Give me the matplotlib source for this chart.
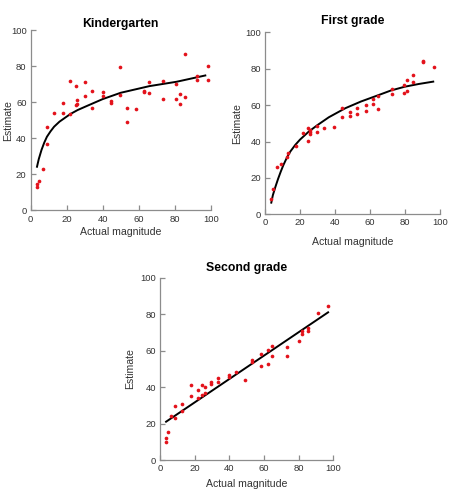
import matplotlib.pyplot as plt

plt.rcParams['font.family'] = ['Liberation Sans', 'DejaVu Sans']

# ---- data ----
k_x = [3.7, 3.7, 4.8, 6.7, 8.9, 8.9, 13.0, 17.8, 17.8, 21.7, 21.7, 25, 25, 25.7, 25.7,
       30, 30, 33.9, 33.9, 40, 40, 44.6, 44.6, 49.6, 49.6, 53.3, 53.3, 58.5, 62.8, 62.8,
       65.7, 65.7, 73.7, 73.7, 80.9, 80.9, 82.8, 82.8, 85.9, 85.9, 92.2, 92.2, 98.7, 98.7]
k_y = [12.8, 14.4, 16.3, 23.1, 46.0, 36.8, 53.8, 59.3, 53.8, 71.9, 53.4, 69.1, 58.2, 61.4, 59.0,
       71.0, 63.6, 66.2, 56.6, 65.4, 63.6, 60.6, 59.3, 79.5, 63.8, 56.9, 49.0, 56.4, 66.4, 65.4,
       71.0, 65.1, 71.9, 61.9, 70.2, 61.7, 64.7, 59.0, 86.9, 62.8, 74.5, 72.3, 80.0, 72.3]
k_fit_x = [3.5, 4.5, 6, 7.5, 9, 11, 13, 16, 22, 26, 31, 40, 50, 66, 81, 97]
k_fit_y = [24.2, 28.5, 33.5, 37.5, 40.8, 43.8, 46.4, 49.2, 53.4, 55.6, 57.8, 61.7, 65.2, 68.9, 71.3, 74.8]

f_x = [3.6, 4.8, 6.7, 9.0, 12.4, 13.0, 17.7, 21.6, 24.8, 24.8, 25.6, 26, 26, 29.6, 30, 34,
       39.7, 43.9, 43.9, 48.9, 48.9, 52.5, 52.5, 57.6, 57.6, 61.6, 61.6, 64.7, 64.7, 72.7, 72.7,
       79.6, 79.6, 81.3, 81.3, 84.5, 84.5, 90.5, 90.5, 96.6]
f_y = [8.6, 13.7, 25.8, 27.5, 31.3, 33.5, 37.5, 44.9, 40.5, 47.3, 46.3, 45.1, 44.1, 45.4, 48.5, 47.6,
       48.2, 58.6, 53.5, 56.2, 54.2, 58.2, 55.1, 60.1, 56.8, 63.4, 60.8, 65.2, 58.1, 68.7, 66.3,
       71.2, 66.5, 73.8, 67.9, 76.7, 72.9, 84.2, 83.5, 81.0]
f_fit_x = [3.6, 4.5, 6, 7.5, 9, 10.5, 12.6, 14.5, 17.3, 20, 25, 30, 36.5, 46, 55, 65, 72, 80, 88, 96.3]
f_fit_y = [6.4, 10.5, 15.2, 19.5, 23.4, 27.0, 31.3, 34.5, 38.1, 41.0, 45.4, 49.0, 53.3, 58.3, 62.0,
           65.5, 68.0, 70.1, 71.6, 72.9]

s_x = [3.6, 3.6, 4.6, 6.3, 8.6, 8.6, 12.5, 12.5, 17.6, 17.6, 21.8, 21.8, 24.5, 24.5, 25.7, 25.7,
       29.7, 29.7, 33.7, 33.7, 40, 40, 43.7, 48.9, 52.9, 52.9, 58.2, 58.2, 62.3, 62.3, 64.8, 64.8,
       73.2, 73.2, 80.1, 82, 82, 85.2, 85.2, 91.4, 96.7]
s_y = [9.6, 12.0, 15.5, 24.2, 29.6, 23.3, 30.9, 26.9, 40.9, 35.1, 38.2, 34.2, 40.9, 35.8, 40.2, 36.7,
       42.7, 41.8, 44.9, 42.7, 46.4, 45.3, 48.2, 43.8, 55.1, 54.0, 58.0, 51.8, 60.4, 52.7, 62.4, 57.3,
       61.8, 57.3, 65.3, 70.9, 69.1, 72.2, 70.9, 80.9, 84.5]
s_fit_x = [3.5, 97]
s_fit_y = [21.0, 81.0]

# title, data, fit, axes box in px (left, top, width, height), title pad, xlabel y, ylabel x
panels = [
    ('Kindergarten', k_x, k_y, k_fit_x, k_fit_y, [30.7, 30.0, 180.0, 180.4], 2, -0.118, -0.126),
    ('First grade', f_x, f_y, f_fit_x, f_fit_y, [265.0, 32.3, 174.7, 182.0], 6, -0.15, -0.16),
    ('Second grade', s_x, s_y, s_fit_x, s_fit_y, [160.0, 277.7, 173.3, 182.3], 5, -0.133, -0.173),
]

W, H = 460, 503
fig = plt.figure(figsize=(W / 100, H / 100), dpi=100)

for title, x, y, fx, fy, (l, t, w, h), pad, xl, yl in panels:
    ax = fig.add_axes([l / W, 1 - (t + h) / H, w / W, h / H])
    ax.scatter(x, y, s=7, color='#e3121b', zorder=3, linewidths=0)
    ax.plot(fx, fy, color='black', lw=1.4, zorder=2)
    ax.set_xlim(0, 100)
    ax.set_ylim(0, 100)
    ax.set_xticks([0, 20, 40, 60, 80, 100])
    ax.set_yticks([0, 20, 40, 60, 80, 100])
    for side in ['top', 'right']:
        ax.spines[side].set_visible(False)
    for side in ['left', 'bottom']:
        ax.spines[side].set_color('#8c8c8c')
        ax.spines[side].set_linewidth(0.9)
    ax.tick_params(direction='in', length=3.5, width=0.9, color='#8c8c8c',
                   labelsize=6.8, labelcolor='#333333', pad=3)
    ax.set_title(title, fontsize=8.8, fontweight='bold', pad=pad)
    ax.set_xlabel('Actual magnitude', fontsize=7.6, color='#333333', va='center')
    ax.set_ylabel('Estimate', fontsize=7.6, color='#333333', va='center')
    ax.xaxis.set_label_coords(0.5, xl)
    ax.yaxis.set_label_coords(yl, 0.5)
    ax.patch.set_alpha(0)

fig.savefig('out.png', dpi=100)
